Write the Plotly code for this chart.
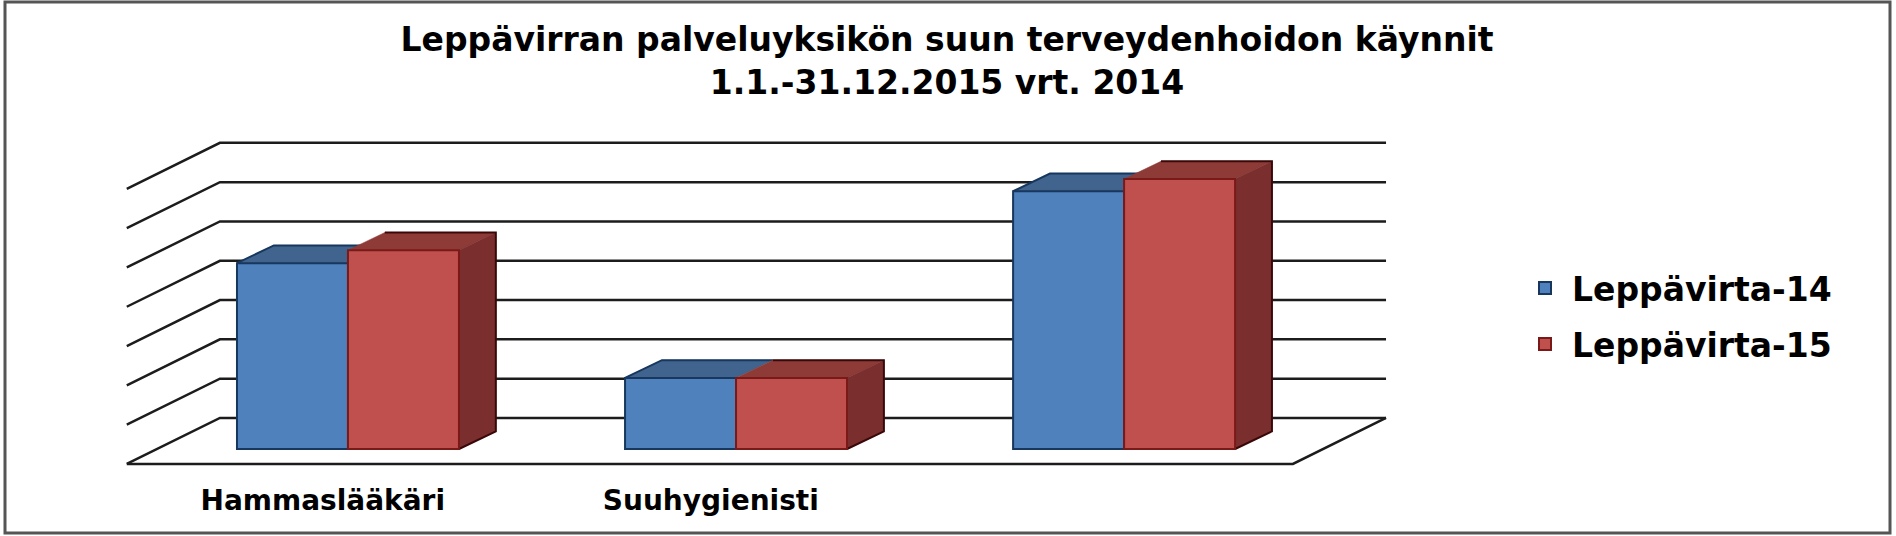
import plotly.graph_objects as go

# ---- data (grid-line units; the reference shows no value axis) ----
categories = ["Hammaslääkäri", "Suuhygienisti", ""]
series_names = ["Leppävirta-14", "Leppävirta-15"]
values_14 = [4.73, 1.81, 6.56]
values_15 = [5.06, 1.81, 6.87]
grid_levels = [0, 1, 2, 3, 4, 5, 6, 7]

# ---- projection constants for the pseudo-3D look ----
FIG_W, FIG_H = 1896, 536
L, R, T, B = 100, 496, 120, 66
X_RANGE = [-0.639, 2.711]
Y_RANGE = [-0.534, 8.372]
BAR_W = 0.286
BAR_DX, BAR_DY = 0.095, 0.45      # depth of a bar
WALL_X0, WALL_X1 = -0.330, 2.675  # back wall, left and right
WALL_Y0 = 0.79                    # back wall height of value 0
DIAG_DX, DIAG_DY = -0.240, -1.17  # back-to-front floor offset
TICK_SHIFT = -0.065

BLUE, BLUE_TOP, BLUE_EDGE = "#4F81BD", "#41648F", "#17375E"
RED, RED_TOP, RED_SIDE, RED_EDGE = "#C0504D", "#8E3B38", "#7A2F2E", "#7A1A18"
GRID = "#1c1c1c"

fig = go.Figure()

# grid on back wall + diagonal side wall
gx, gy = [], []
for lv in grid_levels:
    y = lv + WALL_Y0
    gx += [WALL_X0 + DIAG_DX, WALL_X0, WALL_X1, None]
    gy += [y + DIAG_DY, y, y, None]
# floor front edge and right diagonal
gx += [WALL_X0 + DIAG_DX, WALL_X1 + DIAG_DX, WALL_X1]
gy += [WALL_Y0 + DIAG_DY, WALL_Y0 + DIAG_DY, WALL_Y0]
fig.add_trace(go.Scatter(x=gx, y=gy, mode="lines", showlegend=False, hoverinfo="skip",
                         line=dict(color=GRID, width=2.5), xaxis="x", yaxis="y"))


def face(xs, ys, fill):
    fig.add_trace(go.Scatter(x=xs, y=ys, mode="lines", fill="toself", fillcolor=fill,
                             line=dict(color=fill, width=0.5), showlegend=False,
                             hoverinfo="skip", xaxis="x", yaxis="y"))


def edge(xs, ys, color):
    fig.add_trace(go.Scatter(x=xs, y=ys, mode="lines", line=dict(color=color, width=2),
                             showlegend=False, hoverinfo="skip", xaxis="x", yaxis="y"))


for i, (a, b) in enumerate(zip(values_14, values_15)):
    # blue top
    x0, x1 = i - BAR_W, i
    face([x0, x0 + BAR_DX, x1 + BAR_DX, x1, x0],
         [a, a + BAR_DY, a + BAR_DY, a, a], BLUE_TOP)
    edge([x0, x0 + BAR_DX, x1 + BAR_DX], [a, a + BAR_DY, a + BAR_DY], BLUE_EDGE)
    # red top
    x0, x1 = i, i + BAR_W
    face([x0, x0 + BAR_DX, x1 + BAR_DX, x1, x0],
         [b, b + BAR_DY, b + BAR_DY, b, b], RED_TOP)
    # red side
    face([x1, x1 + BAR_DX, x1 + BAR_DX, x1, x1],
         [0, BAR_DY, b + BAR_DY, b, 0], RED_SIDE)
    edge([x0 + BAR_DX, x1 + BAR_DX, x1 + BAR_DX, x1],
         [b + BAR_DY, b + BAR_DY, BAR_DY, 0], "#3a0808")

xpos = list(range(len(categories)))
fig.add_trace(go.Bar(x=xpos, y=values_14, name=series_names[0], xaxis="x2", yaxis="y2",
                     legend="legend",
                     marker=dict(color=BLUE, line=dict(color=BLUE_EDGE, width=2))))
fig.add_trace(go.Bar(x=xpos, y=values_15, name=series_names[1], xaxis="x2", yaxis="y2",
                     legend="legend2",
                     marker=dict(color=RED, line=dict(color=RED_EDGE, width=2))))

PW, PH = FIG_W - L - R, FIG_H - T - B
axis_off = dict(showgrid=False, zeroline=False, showline=False, showticklabels=False, ticks="")
legend_common = dict(xanchor="left", yanchor="top", font=dict(size=33, weight="bold"),
                     itemwidth=44, bgcolor="rgba(0,0,0,0)")
fig.update_layout(
    width=FIG_W, height=FIG_H,
    margin=dict(l=L, r=R, t=T, b=B, pad=0, autoexpand=False),
    paper_bgcolor="white", plot_bgcolor="white",
    font=dict(family="DejaVu Sans", color="black"),
    barmode="group", bargap=1 - 2 * BAR_W, bargroupgap=0,
    title=dict(text="<b>Leppävirran palveluyksikön suun terveydenhoidon käynnit<br>1.1.-31.12.2015 vrt. 2014</b>",
               x=0.4995, xanchor="center", y=0.904, yanchor="top",
               font=dict(size=33, family="DejaVu Sans")),
    xaxis=dict(range=X_RANGE, tickmode="array",
               tickvals=[p + TICK_SHIFT for p in xpos], ticktext=[f"<b>{c}</b>" for c in categories],
               tickfont=dict(size=28), showgrid=False, zeroline=False, showline=False, ticks="outside",
               ticklen=5, tickcolor="rgba(0,0,0,0)"),
    yaxis=dict(range=Y_RANGE, **axis_off),
    xaxis2=dict(range=X_RANGE, overlaying="x", **axis_off),
    yaxis2=dict(range=Y_RANGE, overlaying="y", **axis_off),
    legend=dict(x=(1518 - L) / PW, y=(FIG_H - B - 260) / PH, **legend_common),
    legend2=dict(x=(1518 - L) / PW, y=(FIG_H - B - 316) / PH, **legend_common),
    shapes=[dict(type="rect", xref="paper", yref="paper",
                 x0=(5 - L) / PW, x1=(1890 - L) / PW,
                 y0=(FIG_H - B - 533) / PH, y1=(FIG_H - B - 2) / PH,
                 line=dict(color="#555555", width=3))],
)

fig.write_html("out.html", config=dict(displayModeBar=False),
               post_script="document.body.style.margin='0';document.documentElement.style.overflow='hidden';")
